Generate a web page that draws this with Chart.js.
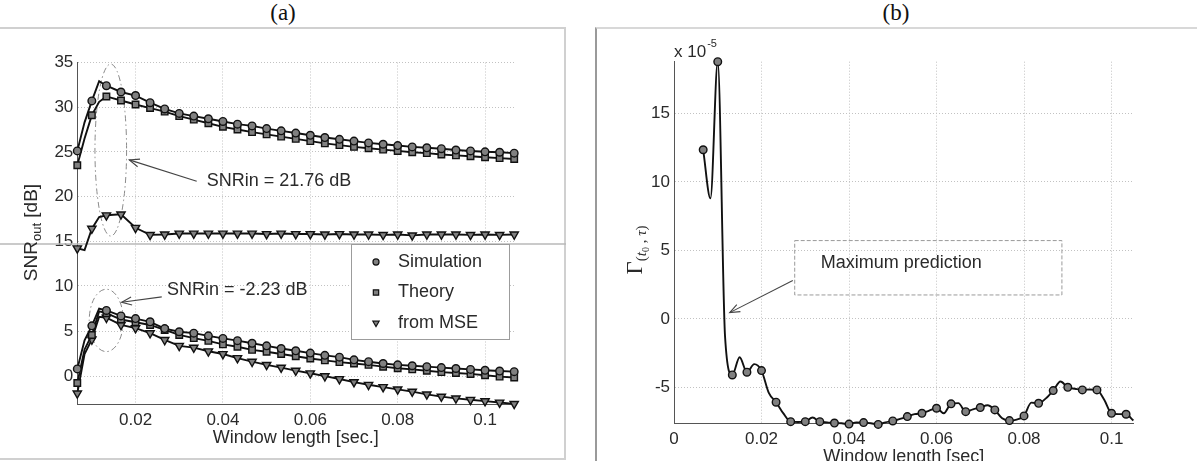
<!DOCTYPE html>
<html><head><meta charset="utf-8">
<script src="https://cdn.jsdelivr.net/npm/chart.js@4.4.1/dist/chart.umd.min.js"></script>
<style>
html,body{margin:0;padding:0;background:#fff;overflow:hidden;width:1197px;height:461px;}
#wrap{position:relative;width:1197px;height:461px;overflow:hidden;}
.ttl{position:absolute;top:0;font-family:"Liberation Serif","DejaVu Serif",serif;font-size:23px;color:#111;transform:translateX(-50%);line-height:25px;}
#frameA{position:absolute;left:-2px;top:27px;width:564px;height:429px;border:2px solid #d0d0d0;}
#frameB{position:absolute;left:595px;top:27px;width:700px;height:500px;border-left:2px solid #9a9a9a;border-top:2px solid #d8d8d8;}
canvas{position:absolute;top:0;}
</style></head>
<body><div id="wrap">
<div id="frameA"></div><div id="frameB"></div>
<div class="ttl" style="left:283px">(a)</div>
<div class="ttl" style="left:896px">(b)</div>
<canvas id="ca" width="566" height="461" style="left:0;width:566px;height:461px"></canvas>
<canvas id="cb" width="600" height="480" style="left:597px;width:600px;height:480px"></canvas>
</div>
<script>
// ---------- DATA : panel (a) ----------
const windowLenA = [0.00667, 0.00833, 0.01, 0.01167, 0.01333, 0.01667, 0.02, 0.02333, 0.02667, 0.03, 0.03333,
  0.03667, 0.04, 0.04333, 0.04667, 0.05, 0.05333, 0.05667, 0.06, 0.06333, 0.06667, 0.07, 0.07333, 0.07667,
  0.08, 0.08333, 0.08667, 0.09, 0.09333, 0.09667, 0.1, 0.10333, 0.10667];
// SNRin = 21.76 dB
const simHigh    = [25.1, 28.3, 30.7, 32.9, 32.4, 31.7, 31.3, 30.5, 29.8, 29.3, 29.0, 28.7, 28.4, 28.1, 27.9,
  27.6, 27.35, 27.1, 26.85, 26.6, 26.4, 26.2, 26.0, 25.85, 25.7, 25.55, 25.45, 25.35, 25.2, 25.1, 25.0, 24.95, 24.85];
const theoryHigh = [23.5, 26.5, 29.1, 30.6, 31.2, 30.75, 30.3, 29.9, 29.5, 29.0, 28.6, 28.2, 27.8, 27.5, 27.2,
  26.95, 26.7, 26.45, 26.2, 25.95, 25.75, 25.55, 25.4, 25.25, 25.1, 24.95, 24.85, 24.7, 24.6, 24.5, 24.4, 24.3, 24.2];
const mseHigh    = [14.2, 14.0, 16.4, 17.7, 17.9, 18.0, 16.5, 15.7, 15.75, 15.85, 15.85, 15.85, 15.85, 15.85, 15.85,
  15.8, 15.85, 15.8, 15.8, 15.75, 15.8, 15.75, 15.75, 15.7, 15.75, 15.65, 15.75, 15.75, 15.75, 15.7, 15.75, 15.7, 15.75];
// SNRin = -2.23 dB
const simLow     = [0.85, 4.0, 5.6, 7.5, 7.3, 6.7, 6.4, 6.05, 5.3, 4.95, 4.8, 4.5, 4.22, 3.97, 3.68,
  3.4, 3.1, 2.85, 2.6, 2.35, 2.15, 1.85, 1.65, 1.45, 1.3, 1.2, 1.1, 1.0, 0.9, 0.8, 0.7, 0.62, 0.55];
const theoryLow  = [-0.7, 3.0, 4.6, 7.2, 7.0, 6.3, 6.0, 5.7, 5.15, 4.6, 4.25, 3.95, 3.56, 3.3, 2.95,
  2.75, 2.5, 2.25, 2.0, 1.8, 1.6, 1.45, 1.3, 1.1, 0.92, 0.8, 0.65, 0.5, 0.4, 0.3, 0.15, 0.0, -0.1];
const mseLow     = [-1.85, 2.5, 4.1, 6.6, 6.5, 5.7, 5.35, 4.8, 4.05, 3.4, 3.2, 2.8, 2.5, 2.05, 1.65,
  1.3, 1.0, 0.66, 0.37, 0.05, -0.26, -0.6, -0.9, -1.15, -1.4, -1.65, -1.95, -2.2, -2.4, -2.55, -2.7, -2.85, -3.0];
const seriesNames = ['Simulation', 'Theory', 'from MSE'];
const xTicksA = [0.02, 0.04, 0.06, 0.08, 0.1];
const yTicksUp = [15, 20, 25, 30, 35];
const yTicksLow = [0, 5, 10];

// ---------- DATA : panel (b) ----------
const windowLenB = [0.00667, 0.00833, 0.01, 0.01167, 0.01333, 0.015, 0.01667, 0.01833, 0.02, 0.02167, 0.02333,
  0.025, 0.02667, 0.02833, 0.03, 0.03167, 0.03333, 0.035, 0.03667, 0.03833, 0.04, 0.04167, 0.04333, 0.045,
  0.04667, 0.04833, 0.05, 0.05167, 0.05333, 0.055, 0.05667, 0.05833, 0.06, 0.06167, 0.06333, 0.065, 0.06667,
  0.06833, 0.07, 0.07167, 0.07333, 0.075, 0.07667, 0.07833, 0.08, 0.08167, 0.08333, 0.085, 0.08667, 0.08833,
  0.09, 0.09167, 0.09333, 0.095, 0.09667, 0.09833, 0.1, 0.10167, 0.10333, 0.105];
const gammaB = [12.35, 8.8, 18.78, -1.3, -4.09, -2.8, -3.89, -3.3, -3.77, -5.4, -6.08, -6.9, -7.5, -7.52, -7.5,
  -7.2, -7.5, -7.55, -7.6, -7.62, -7.68, -7.55, -7.57, -7.62, -7.7, -7.55, -7.45, -7.3, -7.13, -6.95, -6.89,
  -6.7, -6.52, -6.89, -6.2, -6.15, -6.77, -6.6, -6.47, -6.3, -6.64, -7.25, -7.42, -7.35, -7.08, -6.11, -6.16,
  -5.8, -5.23, -4.57, -4.99, -5.1, -5.18, -5.15, -5.18, -5.9, -6.89, -6.95, -6.96, -7.42];
const xTicksB = [0, 0.02, 0.04, 0.06, 0.08, 0.1];
const yTicksB = [-5, 0, 5, 10, 15];

// ---------- styles ----------
const SANS = '"Liberation Sans", Arial, Helvetica, sans-serif';
const SERIF = '"Liberation Serif", "DejaVu Serif", serif';
const GRID = '#c2c2c2', AXIS = '#555', TXT = '#2a2a2a', LINE = '#111', MFILL = '#808080';
const onMarker = x => x !== undefined && Math.abs(x * 300 - Math.round(x * 300)) < 0.2;
const fmt = v => String(parseFloat(Number(v).toFixed(3)));
const pts = (xs, ys) => xs.map((x, i) => ({x, y: ys[i]}));
const STYLES = [
  {pointStyle: 'circle', r: 3.8, rot: 0},
  {pointStyle: 'rect', r: 4.6, rot: 0},
  {pointStyle: 'triangle', r: 4.8, rot: 180}
];
function ds(label, data, axis, k) {
  const st = STYLES[k];
  return {
    label, data, yAxisID: axis, borderColor: LINE, borderWidth: 1.9, tension: 0, clip: false,
    pointStyle: st.pointStyle, pointRotation: st.rot,
    pointRadius: c => onMarker(c.raw && c.raw.x) ? st.r : 0,
    pointHoverRadius: c => onMarker(c.raw && c.raw.x) ? st.r : 0,
    pointBackgroundColor: MFILL, pointBorderColor: LINE, pointBorderWidth: 1.4
  };
}
function drawMarker(ctx, k, x, y) {
  const st = STYLES[k];
  ctx.save(); ctx.fillStyle = MFILL; ctx.strokeStyle = LINE; ctx.lineWidth = 1.2;
  ctx.beginPath();
  if (k === 0) ctx.arc(x, y, st.r * 0.8, 0, Math.PI * 2);
  else if (k === 1) { const s = st.r * 0.58; ctx.rect(x - s, y - s, 2 * s, 2 * s); }
  else { const r = st.r * 0.75; ctx.moveTo(x - r * 0.87, y - r * 0.5); ctx.lineTo(x + r * 0.87, y - r * 0.5); ctx.lineTo(x, y + r); ctx.closePath(); }
  ctx.fill(); ctx.stroke(); ctx.restore();
}
function arrow(ctx, x1, y1, x2, y2) {
  ctx.beginPath(); ctx.moveTo(x1, y1); ctx.lineTo(x2, y2); ctx.stroke();
  const a = Math.atan2(y2 - y1, x2 - x1), L = 10, W = 4;
  ctx.beginPath();
  ctx.moveTo(x2 - L * Math.cos(a) + W * Math.sin(a), y2 - L * Math.sin(a) - W * Math.cos(a));
  ctx.lineTo(x2, y2);
  ctx.lineTo(x2 - L * Math.cos(a) - W * Math.sin(a), y2 - L * Math.sin(a) + W * Math.cos(a));
  ctx.stroke();
}
function richVertical(ctx, cx, cy, parts) {
  ctx.save(); ctx.translate(cx, cy); ctx.rotate(-Math.PI / 2);
  let total = 0;
  parts.forEach(p => { ctx.font = p.font; p.w = ctx.measureText(p.text).width; total += p.w; });
  let u = -total / 2;
  ctx.fillStyle = TXT; ctx.textBaseline = 'alphabetic'; ctx.textAlign = 'left';
  parts.forEach(p => { ctx.font = p.font; ctx.fillText(p.text, u, p.dy); u += p.w; });
  ctx.restore();
}

// ---------- annotations (data coordinates) ----------
const annA = {
  ellipses: [{axis: 'yUp', cx: 0.01433, cy: 25.2, rx: 0.00362, ry: 9.63},
             {axis: 'yLow', cx: 0.0133, cy: 6.2, rx: 0.0039, ry: 3.44}],
  arrows: [{axis: 'yUp', from: [0.0340, 21.7], to: [0.01857, 24.1]},
           {axis: 'yLow', from: [0.026, 8.8], to: [0.01683, 8.2]}],
  texts: [{axis: 'yUp', x: 0.0363, y: 21.7, text: 'SNRin = 21.76 dB'},
          {axis: 'yLow', x: 0.0272, y: 9.56, text: 'SNRin = -2.23 dB'}]
};
const annB = {
  box: {x0: 0.02759, x1: 0.08866, y0: 1.75, y1: 5.72},
  text: {x: 0.03355, y: 4.07, text: 'Maximum prediction'},
  arrow: {from: [0.02715, 2.8], to: [0.01273, 0.46]}
};

const decorA = {
  id: 'decorA',
  beforeDatasetsDraw(chart) {
    const {ctx, scales} = chart;
    const X = scales.x;
    ctx.save();
    ctx.strokeStyle = '#b8b8b8'; ctx.lineWidth = 1.5;
    ctx.beginPath(); ctx.moveTo(0, scales.yUp.bottom); ctx.lineTo(chart.width, scales.yUp.bottom); ctx.stroke();
    ctx.strokeStyle = '#8a8a8a'; ctx.lineWidth = 1; ctx.setLineDash([6, 3, 1.5, 3]);
    annA.ellipses.forEach(e => {
      const Y = scales[e.axis];
      const cx = X.getPixelForValue(e.cx), cy = Y.getPixelForValue(e.cy);
      const rx = X.getPixelForValue(e.cx + e.rx) - cx, ry = cy - Y.getPixelForValue(e.cy + e.ry);
      ctx.beginPath(); ctx.ellipse(cx, cy, rx, ry, 0, 0, Math.PI * 2); ctx.stroke();
    });
    ctx.restore();
  },
  afterDatasetsDraw(chart) {
    const {ctx, scales, chartArea} = chart;
    const X = scales.x;
    ctx.save();
    ctx.strokeStyle = '#444'; ctx.lineWidth = 1.1;
    annA.arrows.forEach(a => {
      const Y = scales[a.axis];
      arrow(ctx, X.getPixelForValue(a.from[0]), Y.getPixelForValue(a.from[1]),
                 X.getPixelForValue(a.to[0]), Y.getPixelForValue(a.to[1]));
    });
    ctx.fillStyle = TXT; ctx.font = '18px ' + SANS; ctx.textBaseline = 'middle'; ctx.textAlign = 'left';
    annA.texts.forEach(t => {
      ctx.fillText(t.text, X.getPixelForValue(t.x), scales[t.axis].getPixelForValue(t.y));
    });
    const bx = chartArea.left + 273.7, by = scales.yUp.bottom, bw = 158, bh = 95;
    ctx.fillStyle = '#fff'; ctx.fillRect(bx, by, bw, bh);
    ctx.strokeStyle = '#9c9c9c'; ctx.lineWidth = 1; ctx.strokeRect(bx + 0.5, by + 0.5, bw, bh);
    seriesNames.forEach((name, k) => {
      const yy = by + 18 + k * 30.5;
      drawMarker(ctx, k, bx + 25, yy);
      ctx.fillStyle = TXT; ctx.font = '18px ' + SANS; ctx.textBaseline = 'middle';
      ctx.fillText(name, bx + 47, yy);
    });
    ctx.restore();
  },
  afterDraw(chart) {
    richVertical(chart.ctx, 30, 232.5, [
      {text: 'SNR', font: '19px ' + SANS, dy: 7},
      {text: 'out', font: '13px ' + SANS, dy: 11},
      {text: ' [dB]', font: '19px ' + SANS, dy: 7}
    ]);
  }
};

const decorB = {
  id: 'decorB',
  afterDatasetsDraw(chart) {
    const {ctx, scales, chartArea} = chart;
    const X = scales.x, Y = scales.y;
    ctx.save();
    const b = annB.box;
    const x0 = X.getPixelForValue(b.x0), x1 = X.getPixelForValue(b.x1);
    const y0 = Y.getPixelForValue(b.y1), y1 = Y.getPixelForValue(b.y0);
    ctx.strokeStyle = '#9a9a9a'; ctx.lineWidth = 1; ctx.setLineDash([4, 2]);
    ctx.strokeRect(x0, y0, x1 - x0, y1 - y0);
    ctx.setLineDash([]);
    ctx.fillStyle = TXT; ctx.font = '18px ' + SANS; ctx.textBaseline = 'middle'; ctx.textAlign = 'left';
    ctx.fillText(annB.text.text, X.getPixelForValue(annB.text.x), Y.getPixelForValue(annB.text.y));
    ctx.strokeStyle = '#444'; ctx.lineWidth = 1.1;
    const a = annB.arrow;
    arrow(ctx, X.getPixelForValue(a.from[0]), Y.getPixelForValue(a.from[1]),
               X.getPixelForValue(a.to[0]), Y.getPixelForValue(a.to[1]));
    ctx.fillStyle = TXT; ctx.textBaseline = 'alphabetic';
    ctx.font = '17px ' + SANS; ctx.fillText('x 10', chartArea.left, chartArea.top - 5);
    const w = ctx.measureText('x 10').width;
    ctx.font = '11px ' + SANS; ctx.fillText('-5', chartArea.left + w + 1, chartArea.top - 15);
    ctx.restore();
  },
  afterDraw(chart) {
    richVertical(chart.ctx, 38, 250, [
      {text: 'Γ', font: '23px ' + SERIF, dy: 7},
      {text: '(', font: '15px ' + SERIF, dy: 11},
      {text: 't', font: 'italic 15px ' + SERIF, dy: 11},
      {text: '0', font: '10px ' + SERIF, dy: 14},
      {text: ' , ', font: '15px ' + SERIF, dy: 11},
      {text: 'τ', font: 'italic 15px ' + SERIF, dy: 11},
      {text: ')', font: '15px ' + SERIF, dy: 11}
    ]);
  }
};

const tickFont = {family: SANS, size: 17};
const titleFont = {family: SANS, size: 18};
function yScale(extra) {
  return Object.assign({
    type: 'linear', position: 'left',
    afterFit: s => { s.width = 77.3; },
    ticks: {font: tickFont, color: TXT, padding: 4, callback: v => fmt(v)},
    grid: {color: GRID, drawTicks: false, lineWidth: 1},
    border: {display: true, color: AXIS, width: 1, dash: [1, 2]}
  }, extra);
}

new Chart(document.getElementById('ca'), {
  type: 'line',
  data: {datasets: [
    ds(seriesNames[0], pts(windowLenA, simHigh), 'yUp', 0),
    ds(seriesNames[1], pts(windowLenA, theoryHigh), 'yUp', 1),
    ds(seriesNames[2], pts(windowLenA, mseHigh), 'yUp', 2),
    ds(seriesNames[0], pts(windowLenA, simLow), 'yLow', 0),
    ds(seriesNames[1], pts(windowLenA, theoryLow), 'yLow', 1),
    ds(seriesNames[2], pts(windowLenA, mseLow), 'yLow', 2)
  ]},
  options: {
    responsive: false, animation: false, devicePixelRatio: 1, events: [],
    layout: {padding: {left: 0, top: 62.5, right: 51.8, bottom: 0}},
    plugins: {legend: {display: false}, tooltip: {enabled: false}},
    scales: {
      x: {
        type: 'linear', position: 'bottom', min: windowLenA[0], max: windowLenA[windowLenA.length - 1],
        afterBuildTicks: s => { s.ticks = xTicksA.map(v => ({value: v})); },
        afterFit: s => { s.height = 56.7; },
        ticks: {font: tickFont, color: TXT, padding: 6, maxRotation: 0, autoSkip: false, callback: v => fmt(v)},
        grid: {color: GRID, drawTicks: false, lineWidth: 1},
        border: {display: true, color: AXIS, width: 1, dash: [1, 2]},
        title: {display: true, text: 'Window length [sec.]', font: titleFont, color: TXT, padding: {top: 0, bottom: 12}}
      },
      yLow: yScale({min: -3.05, max: 14.63, stack: 'snr', stackWeight: 160.3,
        afterBuildTicks: s => { s.ticks = yTicksLow.map(v => ({value: v})); }}),
      yUp: yScale({min: 14.68, max: 35, stack: 'snr', stackWeight: 181.5,
        afterBuildTicks: s => { s.ticks = yTicksUp.map(v => ({value: v})); }})
    }
  },
  plugins: [decorA]
});

new Chart(document.getElementById('cb'), {
  type: 'line',
  data: {datasets: [{
    label: 'Gamma', data: pts(windowLenB, gammaB), borderColor: LINE, borderWidth: 1.9,
    cubicInterpolationMode: 'monotone', clip: false,
    pointStyle: 'circle',
    pointRadius: c => onMarker(c.raw && c.raw.x) ? 3.8 : 0,
    pointHoverRadius: c => onMarker(c.raw && c.raw.x) ? 3.8 : 0,
    pointBackgroundColor: MFILL, pointBorderColor: LINE, pointBorderWidth: 1.4
  }]},
  options: {
    responsive: false, animation: false, devicePixelRatio: 1, events: [],
    layout: {padding: {left: 0, top: 61.7, right: 63.6, bottom: 0}},
    plugins: {legend: {display: false}, tooltip: {enabled: false}},
    scales: {
      x: {
        type: 'linear', position: 'bottom', min: 0, max: windowLenB[windowLenB.length - 1],
        afterBuildTicks: s => { s.ticks = xTicksB.map(v => ({value: v})); },
        afterFit: s => { s.height = 56.7; },
        ticks: {font: tickFont, color: TXT, padding: 6, maxRotation: 0, autoSkip: false, callback: v => fmt(v)},
        grid: {color: GRID, drawTicks: false, lineWidth: 1},
        border: {display: true, color: AXIS, width: 1, dash: [1, 2]},
        title: {display: true, text: 'Window length [sec]', font: titleFont, color: TXT, padding: {top: 0, bottom: 12}}
      },
      y: {
        type: 'linear', position: 'left', min: -7.62, max: 18.78,
        afterBuildTicks: s => { s.ticks = yTicksB.map(v => ({value: v})); },
        afterFit: s => { s.width = 77; },
        ticks: {font: tickFont, color: TXT, padding: 4, callback: v => fmt(v)},
        grid: {color: GRID, drawTicks: false, lineWidth: 1},
        border: {display: true, color: AXIS, width: 1, dash: [1, 2]}
      }
    }
  },
  plugins: [decorB]
});
</script>
</body></html>
